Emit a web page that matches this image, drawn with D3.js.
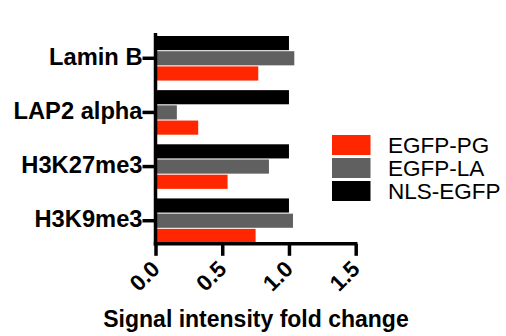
<!DOCTYPE html>
<html>
<head>
<meta charset="utf-8">
<script src="https://cdn.jsdelivr.net/npm/d3@7"></script>
<style>
  html, body { margin: 0; padding: 0; background: #fff; }
  svg { display: block; font-family: "Liberation Sans", Arial, Helvetica, sans-serif; }
</style>
</head>
<body>
<svg id="chart" width="506" height="336"></svg>
<script>
// Marker proteins, top to bottom
const categories = ["Lamin B", "LAP2 alpha", "H3K27me3", "H3K9me3"];

// Fold change per construct, one value per category
const egfpPG  = [0.77, 0.32, 0.54, 0.75];
const egfpLA  = [1.04, 0.16, 0.85, 1.03];
const nlsEGFP = [1.00, 1.00, 1.00, 1.00];

const seriesNames  = ["EGFP-PG", "EGFP-LA", "NLS-EGFP"];
const seriesColors = ["#ff2600", "#606060", "#000000"];
const xTicks = [0, 0.5, 1.0, 1.5];

const series = [
  { name: seriesNames[0], values: egfpPG,  color: seriesColors[0] },
  { name: seriesNames[1], values: egfpLA,  color: seriesColors[1] },
  { name: seriesNames[2], values: nlsEGFP, color: seriesColors[2] }
];
// Within each group the control sits on top
const barOrder = [seriesNames[2], seriesNames[1], seriesNames[0]];

const svg = d3.select("#chart");

const plot = { left: 155.5, right: 355.7, top: 33, bottom: 243.8 };
const axisWidth = 3.5;

const x = d3.scaleLinear().domain([0, 1.5]).range([plot.left, plot.right]);
const y = d3.scaleBand().domain(categories).range([36, 243]).paddingInner(0.177).paddingOuter(0);
const yInner = d3.scaleBand().domain(barOrder).range([0, y.bandwidth()]).paddingInner(0.07);

// Bars
const rows = [];
series.forEach(s => s.values.forEach((v, i) => rows.push({ cat: categories[i], name: s.name, value: v, color: s.color })));

svg.append("g")
  .selectAll("rect")
  .data(rows)
  .join("rect")
  .attr("x", x(0))
  .attr("y", d => y(d.cat) + yInner(d.name))
  .attr("width", d => x(d.value) - x(0))
  .attr("height", yInner.bandwidth())
  .attr("fill", d => d.color);

// Y axis: category labels with short ticks
const yAxis = svg.append("g")
  .attr("transform", `translate(${plot.left},0)`)
  .call(d3.axisLeft(y).tickSize(13).tickPadding(0));
yAxis.select(".domain").remove();
yAxis.selectAll(".tick line").attr("stroke", "#000").attr("stroke-width", axisWidth);
yAxis.selectAll(".tick text")
  .attr("fill", "#000")
  .attr("font-size", 23.7)
  .attr("font-weight", "bold")
  .attr("dy", "0.28em")
  .style("font-family", "'Liberation Sans', Arial, Helvetica, sans-serif");

// X axis: ticks with rotated labels
const xAxis = svg.append("g")
  .attr("transform", `translate(0,${plot.bottom})`)
  .call(d3.axisBottom(x).tickValues(xTicks).tickFormat(d3.format(".1f")).tickSize(12).tickSizeOuter(0));
xAxis.select(".domain").remove();
xAxis.selectAll(".tick line").attr("stroke", "#000").attr("stroke-width", axisWidth);
xAxis.selectAll(".tick text")
  .attr("fill", "#000")
  .attr("font-size", 22.5)
  .attr("font-weight", "bold")
  .attr("text-anchor", "end")
  .attr("y", 0)
  .attr("dy", 0)
  .attr("transform", "translate(5,26.6) rotate(-45)")
  .style("font-family", "'Liberation Sans', Arial, Helvetica, sans-serif");

// Axis lines
svg.append("line")
  .attr("x1", plot.left).attr("x2", plot.left)
  .attr("y1", plot.top).attr("y2", plot.bottom + axisWidth / 2)
  .attr("stroke", "#000").attr("stroke-width", axisWidth);
svg.append("line")
  .attr("x1", plot.left - axisWidth / 2).attr("x2", plot.right + axisWidth / 2)
  .attr("y1", plot.bottom).attr("y2", plot.bottom)
  .attr("stroke", "#000").attr("stroke-width", axisWidth);

// Axis title
svg.append("text")
  .attr("x", 256)
  .attr("y", 327)
  .attr("text-anchor", "middle")
  .attr("font-size", 23)
  .attr("font-weight", "bold")
  .attr("fill", "#000")
  .text("Signal intensity fold change");

// Legend
const legend = svg.append("g").attr("transform", "translate(332,135)");
const item = legend.selectAll("g")
  .data(series)
  .join("g")
  .attr("transform", (d, i) => `translate(0,${i * 23})`);
item.append("rect")
  .attr("width", 38.5)
  .attr("height", 20)
  .attr("fill", d => d.color);
item.append("text")
  .attr("x", 56)
  .attr("y", 18)
  .attr("font-size", 22.5)
  .attr("fill", "#000")
  .text(d => d.name);
</script>
</body>
</html>
